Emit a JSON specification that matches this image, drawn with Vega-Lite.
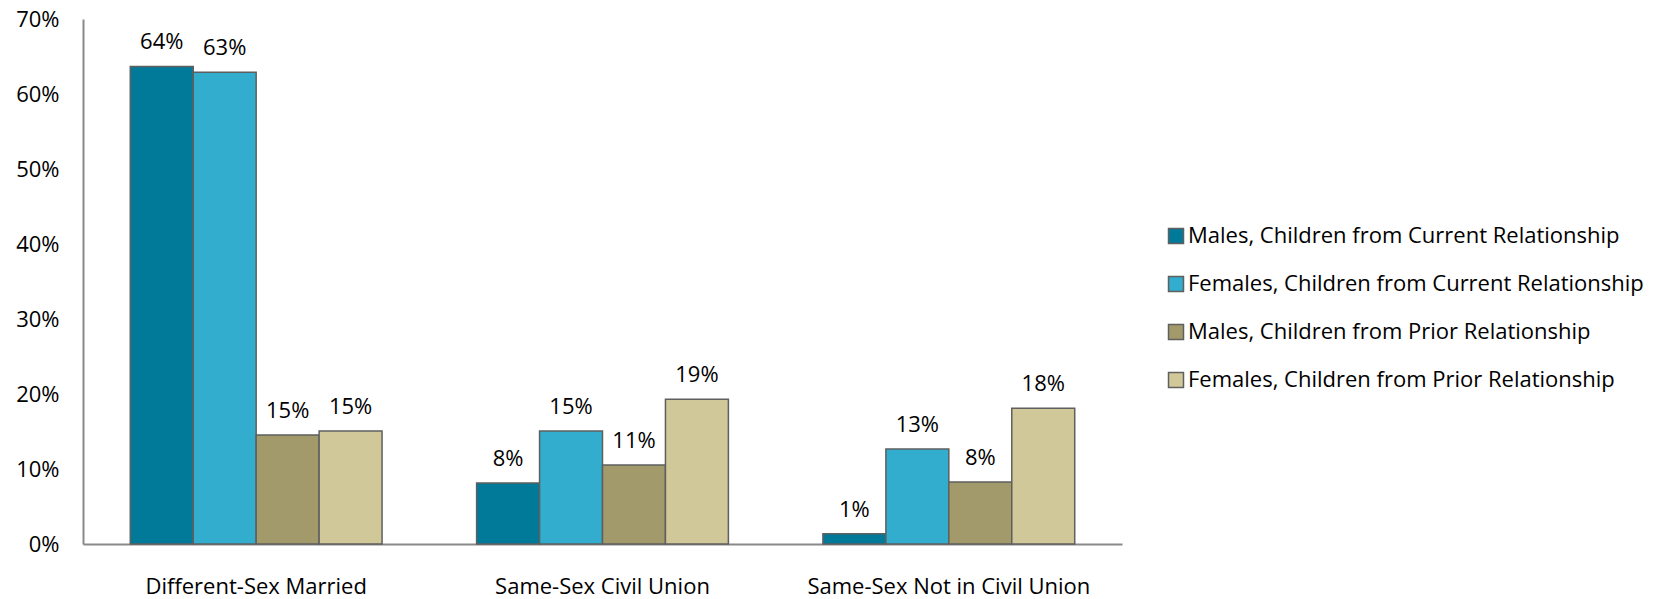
{
  "$schema": "https://vega.github.io/schema/vega-lite/v6.json",
  "autosize": "none",
  "width": 1039,
  "height": 525,
  "padding": {"left": 83, "top": 19, "right": 556, "bottom": 55},
  "background": "white",
  "config": {
    "font": "Open Sans",
    "view": {"stroke": null}
  },
  "data": {
    "values": [
      {"group": "Different-Sex Married", "series": "Males, Children from Current Relationship", "value": 0.6367, "label": "64%"},
      {"group": "Different-Sex Married", "series": "Females, Children from Current Relationship", "value": 0.629, "label": "63%"},
      {"group": "Different-Sex Married", "series": "Males, Children from Prior Relationship", "value": 0.1453, "label": "15%"},
      {"group": "Different-Sex Married", "series": "Females, Children from Prior Relationship", "value": 0.1507, "label": "15%"},
      {"group": "Same-Sex Civil Union", "series": "Males, Children from Current Relationship", "value": 0.0813, "label": "8%"},
      {"group": "Same-Sex Civil Union", "series": "Females, Children from Current Relationship", "value": 0.1507, "label": "15%"},
      {"group": "Same-Sex Civil Union", "series": "Males, Children from Prior Relationship", "value": 0.1053, "label": "11%"},
      {"group": "Same-Sex Civil Union", "series": "Females, Children from Prior Relationship", "value": 0.1929, "label": "19%"},
      {"group": "Same-Sex Not in Civil Union", "series": "Males, Children from Current Relationship", "value": 0.0137, "label": "1%"},
      {"group": "Same-Sex Not in Civil Union", "series": "Females, Children from Current Relationship", "value": 0.1267, "label": "13%"},
      {"group": "Same-Sex Not in Civil Union", "series": "Males, Children from Prior Relationship", "value": 0.0827, "label": "8%"},
      {"group": "Same-Sex Not in Civil Union", "series": "Females, Children from Prior Relationship", "value": 0.1809, "label": "18%"}
    ]
  },
  "encoding": {
    "x": {
      "field": "group",
      "type": "nominal",
      "sort": null,
      "scale": {"paddingInner": 0.273, "paddingOuter": 0.1365},
      "axis": {
        "title": null,
        "labelAngle": 0,
        "labelFontSize": 22,
        "labelColor": "#000000",
        "labelPadding": 32,
        "labelLimit": 400,
        "ticks": false,
        "domainColor": "#898989",
        "domainWidth": 2
      }
    },
    "xOffset": {
      "field": "series",
      "type": "nominal",
      "sort": null,
      "scale": {"paddingInner": 0, "paddingOuter": 0}
    },
    "y": {
      "field": "value",
      "type": "quantitative",
      "scale": {"domain": [0, 0.7]},
      "axis": {
        "title": null,
        "format": ".0%",
        "values": [0, 0.1, 0.2, 0.3, 0.4, 0.5, 0.6, 0.7],
        "grid": false,
        "ticks": false,
        "labelFontSize": 22,
        "labelColor": "#000000",
        "labelPadding": 24,
        "domainColor": "#898989",
        "domainWidth": 2
      }
    }
  },
  "layer": [
    {
      "mark": {"type": "bar", "stroke": "#5f5f5f", "strokeWidth": 1.5},
      "encoding": {
        "color": {
          "field": "series",
          "type": "nominal",
          "sort": null,
          "scale": {
            "domain": [
              "Males, Children from Current Relationship",
              "Females, Children from Current Relationship",
              "Males, Children from Prior Relationship",
              "Females, Children from Prior Relationship"
            ],
            "range": ["#017A9A", "#32ADCD", "#A39A6B", "#D0C899"]
          },
          "legend": {
            "title": null,
            "orient": "none",
            "legendX": 1082,
            "legendY": 206,
            "symbolType": "square",
            "symbolSize": 225,
            "symbolStrokeColor": "#5f5f5f",
            "symbolStrokeWidth": 1.5,
            "labelFontSize": 22,
            "labelColor": "#000000",
            "labelOffset": 1,
            "labelLimit": 600,
            "rowPadding": 26,
            "padding": 0
          }
        }
      }
    },
    {
      "mark": {"type": "text", "fontSize": 22, "color": "#000000", "baseline": "alphabetic", "dy": -17},
      "encoding": {
        "text": {"field": "label"}
      }
    }
  ]
}
